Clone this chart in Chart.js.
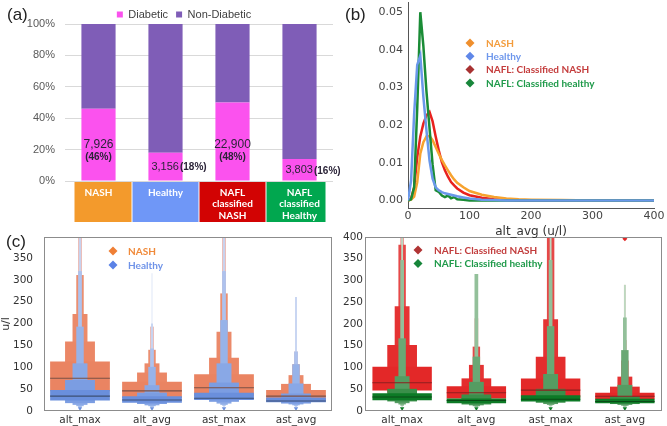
<!DOCTYPE html>
<html><head><meta charset="utf-8">
<script src="https://cdn.jsdelivr.net/npm/chart.js@4.4.0/dist/chart.umd.min.js"></script>
<style>
html,body{margin:0;padding:0;background:#fff;}
body{width:667px;height:426px;position:relative;overflow:hidden;font-family:"Liberation Sans",Arial,sans-serif;}
.pane{position:absolute;}
.pane canvas{display:block;}
.tag{position:absolute;font-size:17px;color:#222;line-height:17px;font-family:"Liberation Sans",Arial,sans-serif;}
</style></head><body>
<div class="pane" style="left:0;top:225px;"><canvas id="cc1" width="340" height="201"></canvas></div>
<div class="pane" style="left:340px;top:225px;"><canvas id="cc2" width="327" height="201"></canvas></div>
<div class="pane" style="left:0;top:0;"><canvas id="ca" width="340" height="225"></canvas></div>
<div class="pane" style="left:340px;top:0;"><canvas id="cb" width="327" height="240"></canvas></div>
<div class="tag" style="left:7px;top:6px">(a)</div>
<div class="tag" style="left:345px;top:6px">(b)</div>
<div class="tag" style="left:6px;top:233px">(c)</div>
<script>
// ---------- (a) data ----------
const groupLabels = [['NASH'], ['Healthy'], ['NAFL', 'classified', 'NASH'], ['NAFL', 'classified', 'Healthy']];
const groupColors = ['#f39a2c', '#6f97f7', '#d20303', '#01a74f'];
const diabeticShare = [46, 18, 50, 14];
const nonDiabeticShare = [54, 82, 50, 86];
const diabeticCounts = [7926, 3156, 22900, 3803];
const diabeticPctText = [46, 18, 48, 16];
const shareTicks = [0, 20, 40, 60, 80, 100];

// ---------- (b) data ----------
const densX = [0, 5, 10, 15, 20, 25, 30, 35, 40, 45, 50, 55, 60, 65, 70, 75, 80, 90, 100, 120, 140, 160, 180, 200, 250, 300, 350, 400];
const densNASH = [0, 0.0002, 0.001, 0.0048, 0.0124, 0.0155, 0.017, 0.0171, 0.016, 0.0142, 0.0124, 0.0108, 0.0093, 0.008, 0.0067, 0.0056, 0.0047, 0.0035, 0.0025, 0.0015, 0.0009, 0.0005, 0.0003, 0.0002, 0.0001, 0, 0, 0];
const densHealthy = [0, 0.0053, 0.023, 0.036, 0.0385, 0.0275, 0.0186, 0.0106, 0.0058, 0.0035, 0.0027, 0.0022, 0.0019, 0.0017, 0.0015, 0.0013, 0.0011, 0.0008, 0.0005, 0.0002, 0.0001, 0, 0, 0, 0, 0, 0, 0];
const densNaflNash = [0, 0.0005, 0.0035, 0.0115, 0.017, 0.0204, 0.0226, 0.0235, 0.021, 0.017, 0.0133, 0.0102, 0.008, 0.0063, 0.0049, 0.004, 0.0032, 0.0021, 0.0014, 0.0007, 0.0003, 0.0001, 0, 0, 0, 0, 0, 0];
const densNaflHealthy = [0, 0.0003, 0.0035, 0.0245, 0.05, 0.041, 0.029, 0.0192, 0.0095, 0.0027, 0.0023, 0.0013, 0.0009, 0.0013, 0.0006, 0.0009, 0.0003, 0.0002, 0, 0, 0, 0, 0, 0, 0, 0, 0, 0];
const densXTicks = [0, 100, 200, 300, 400];
const densYTicks = [0, 0.01, 0.02, 0.03, 0.04, 0.05];

// ---------- (c) data ----------
const enzymeCats = ['alt_max', 'alt_avg', 'ast_max', 'ast_avg'];
const nashMedian = [75, 46, 53, 34];
const nashLevels = [
  [[45, 113], [35, 159], [28, 222], [24, 311], [20, 398]],
  [[30, 67], [25, 88], [22, 109], [20, 140], [18, 193]],
  [[33, 84], [27, 122], [24, 181], [22, 269], [20, 398]],
  [[24, 48], [21, 62], [19, 82], [18, 107], [16, 136]]
];
const healthyMedian = [34, 25, 29, 23];
const healthyLevels = [
  [[24, 48], [18, 71], [14, 109], [11, 193], [9, 320], [7, 398]],
  [[19, 34], [16, 42], [13, 59], [11, 101], [9, 143], [8, 200], [6, 315]],
  [[25, 42], [21, 65], [17, 109], [14, 208], [12, 320], [10, 398]],
  [[20, 31], [17, 40], [15, 63], [13, 107], [11, 136], [9, 261]]
];
const healthyLowMarks = [6, 6, 6, 6];
const naflNashMedian = [65, 42, 48, 34];
const naflNashLevels = [
  [[47, 102], [42, 152], [35, 241], [30, 382], [26, 398]],
  [[29, 57], [26, 75], [24, 106], [22, 148], [20, 213]],
  [[31, 75], [28, 125], [25, 211], [23, 398]],
  [[27, 42], [24, 56], [22, 79], [20, 116], [18, 163], [16, 290]]
];
const naflNashHighMarks = [null, null, null, 396];
const naflHealthyMedian = [32, 24, 27, 22];
const naflHealthyLevels = [
  [[25, 41], [22, 51], [18, 80], [15, 167], [12, 347], [10, 398]],
  [[18, 29], [15, 38], [13, 67], [11, 125], [9, 315]],
  [[22, 36], [19, 51], [16, 85], [14, 195], [12, 347], [10, 398]],
  [[18, 28], [16, 33], [14, 60], [12, 140], [10, 215], [9, 290]]
];
const naflHealthyLowMarks = [6, 6, 6, 6];
const leftTicks = [0, 50, 100, 150, 200, 250, 300, 350];
const rightTicks = [0, 50, 100, 150, 200, 250, 300, 350, 400];

// ---------- plugins ----------
const catBoxes = {
  id: 'catBoxes',
  afterLayout(chart, args, o) {
    if (chart.legend && o.legendShift) { chart.legend.left += o.legendShift; chart.legend.right += o.legendShift; }
  },
  beforeDraw(chart, args, o) {
    const x = chart.scales.x, ca = chart.chartArea, ctx = chart.ctx;
    const n = x.ticks.length;
    const c = x.ticks.map((t, i) => x.getPixelForTick(i));
    ctx.save();
    for (let i = 0; i < n; i++) {
      const l = i === 0 ? ca.left + o.inset[0] : (c[i - 1] + c[i]) / 2;
      const r = i === n - 1 ? ca.right - o.inset[1] : (c[i] + c[i + 1]) / 2;
      ctx.fillStyle = o.colors[i];
      ctx.fillRect(l + 0.5, ca.bottom + 1, r - l - 1, o.height);
    }
    ctx.restore();
  }
};
const barLabels = {
  id: 'barLabels',
  afterDatasetsDraw(chart) {
    const ctx = chart.ctx;
    const meta = chart.getDatasetMeta(0);
    ctx.save();
    ctx.fillStyle = '#2b2438';
    ctx.textBaseline = 'middle';
    meta.data.forEach((bar, i) => {
      const cnt = diabeticCounts[i].toLocaleString('en-US');
      const pct = '(' + diabeticPctText[i] + '%)';
      const top = bar.y, bottom = bar.base, h = bottom - top;
      if (h > 40) {
        ctx.textAlign = 'center';
        ctx.font = '12px "Liberation Sans", Arial';
        ctx.fillText(cnt, bar.x, bottom - 36);
        ctx.font = 'bold 10px "Liberation Sans", Arial';
        ctx.fillText(pct, bar.x, bottom - 23);
      } else {
        ctx.textAlign = 'left';
        const x0 = bar.x - bar.width / 2 + 3, y0 = (top + bottom) / 2;
        ctx.font = '11px "Liberation Sans", Arial';
        ctx.fillText(cnt, x0, y0);
        const w = ctx.measureText(cnt).width;
        ctx.font = 'bold 10px "Liberation Sans", Arial';
        ctx.fillText(pct, x0 + w + 1, y0 + 1);
      }
    });
    ctx.restore();
  }
};
const frame = {
  id: 'frame',
  afterDatasetsDraw(chart, args, o) {
    const ca = chart.chartArea, ctx = chart.ctx;
    ctx.save();
    ctx.strokeStyle = o.color || '#888';
    ctx.lineWidth = 1;
    ctx.strokeRect(Math.round(ca.left) + 0.5, Math.round(ca.top) + 0.5, Math.round(ca.right - ca.left) - 1, Math.round(ca.bottom - ca.top) - 1);
    ctx.restore();
  }
};
const markLegend = {
  id: 'markLegend',
  afterDraw(chart, args, o) {
    if (!o || !o.items) return;
    const ctx = chart.ctx;
    ctx.save();
    ctx.textBaseline = 'middle';
    ctx.textAlign = 'left';
    ctx.font = o.font;
    o.items.forEach((it, i) => {
      const y = o.y + i * o.dy, r = o.r;
      ctx.fillStyle = it.marker;
      ctx.beginPath();
      ctx.moveTo(o.mx, y - r); ctx.lineTo(o.mx + r, y); ctx.lineTo(o.mx, y + r); ctx.lineTo(o.mx - r, y);
      ctx.closePath(); ctx.fill();
      ctx.fillStyle = it.color;
      ctx.fillText(it.text, o.tx, y + 0.5);
    });
    ctx.restore();
  }
};
const fixV = w => s => { s.width = w; s.paddingTop = 0; s.paddingBottom = 0; };
const fixH = h => s => { s.height = h; s.paddingLeft = 0; s.paddingRight = 0; };

// ---------- (a) chart ----------
new Chart(document.getElementById('ca'), {
  type: 'bar',
  data: {
    labels: groupLabels,
    datasets: [
      { label: 'Diabetic', data: diabeticShare, backgroundColor: '#fb52ee', stack: 's' },
      { label: 'Non-Diabetic', data: nonDiabeticShare, backgroundColor: '#7f5db7', stack: 's' }
    ]
  },
  options: {
    responsive: false, animation: false, devicePixelRatio: 1,
    layout: { padding: { left: 25, right: 7, top: 1, bottom: 0 } },
    datasets: { bar: { barPercentage: 0.51, categoryPercentage: 1 } },
    plugins: {
      legend: { position: 'top', maxHeight: 23, labels: { boxWidth: 6, boxHeight: 6, padding: 8, color: '#404040', font: { size: 11, family: '"Liberation Sans", Arial' } } },
      tooltip: { enabled: false },
      catBoxes: { colors: groupColors, inset: [9, 7], height: 40, legendShift: 5 }
    },
    scales: {
      x: {
        stacked: true, grid: { display: false, drawTicks: false }, border: { display: false },
        afterFit: fixH(44),
        ticks: { color: '#ffffff', font: { family: 'Lato', size: 10, weight: 'bold', lineHeight: 1.15 }, padding: 6, maxRotation: 0, autoSkip: false }
      },
      y: {
        stacked: true, min: 0, max: 100,
        afterBuildTicks: s => { s.ticks = shareTicks.map(v => ({ value: v })); },
        afterFit: fixV(40),
        ticks: { callback: v => v + '%', color: '#595959', font: { size: 11, family: '"Liberation Sans", Arial' }, padding: 10 },
        grid: { color: '#d9d9d9', drawTicks: false }, border: { display: false }
      }
    }
  },
  plugins: [catBoxes, barLabels]
});

// ---------- (b) chart ----------
const pts = arr => densX.map((x, i) => ({ x: x, y: arr[i] }));
new Chart(document.getElementById('cb'), {
  type: 'line',
  data: {
    datasets: [
      { label: 'Healthy', data: pts(densHealthy), borderColor: '#6a98ea' },
      { label: 'NAFL: Classified healthy', data: pts(densNaflHealthy), borderColor: '#1a8c36' },
      { label: 'NASH', data: pts(densNASH), borderColor: '#f7a32f' },
      { label: 'NAFL: Classified NASH', data: pts(densNaflNash), borderColor: '#e8221e' }
    ]
  },
  options: {
    responsive: false, animation: false, devicePixelRatio: 1,
    layout: { padding: { left: 0, right: 13, top: 2, bottom: 0 } },
    elements: { point: { radius: 0 }, line: { borderWidth: 2.5, tension: 0 } },
    plugins: {
      legend: { display: false }, tooltip: { enabled: false },
      markLegend: {
        mx: 130, tx: 146, y: 43, dy: 13.3, r: 4.5, font: 'bold 10px Lato',
        items: [
          { text: 'NASH', marker: '#ef8f2d', color: '#f39c3c' },
          { text: 'Healthy', marker: '#5f87e8', color: '#6e97ec' },
          { text: 'NAFL: Classified NASH', marker: '#a83232', color: '#c43c3c' },
          { text: 'NAFL: Classified healthy', marker: '#17863a', color: '#1f9a4a' }
        ]
      }
    },
    scales: {
      x: {
        type: 'linear', min: 0, max: 400,
        afterBuildTicks: s => { s.ticks = densXTicks.map(v => ({ value: v })); },
        afterFit: fixH(32),
        grid: { display: false, drawTicks: false }, border: { color: '#555', width: 1 },
        ticks: { color: '#444', font: { family: 'DejaVu Sans', size: 11 }, padding: 2 },
        title: { display: true, text: 'alt_avg (u/l)', color: '#333', font: { family: 'DejaVu Sans', size: 12 }, padding: { top: 0, bottom: 1 } }
      },
      y: {
        min: -0.002, max: 0.0527,
        afterBuildTicks: s => { s.ticks = densYTicks.map(v => ({ value: v })); },
        afterFit: fixV(68),
        grid: { display: false, drawTicks: false }, border: { color: '#555', width: 1 },
        ticks: { callback: v => v.toFixed(2), color: '#444', font: { family: 'DejaVu Sans', size: 11 }, padding: 5 }
      }
    }
  },
  plugins: [markLegend]
});

// ---------- (c) charts ----------
function boxenSets(levels, colors, width) {
  const depth = Math.max(...levels.map(l => l.length));
  const out = [];
  for (let k = 0; k < depth; k++) {
    out.push({
      type: 'bar', data: levels.map(l => l[k] || null),
      backgroundColor: colors[Math.min(k, colors.length - 1)],
      barPercentage: width * Math.pow(0.5, k), categoryPercentage: 1,
      grouped: false, borderWidth: 0
    });
  }
  return out;
}
function medianSet(meds, color, width) {
  return { type: 'bar', data: meds.map(m => [m - 1.2, m + 1.2]), backgroundColor: color, barPercentage: width, categoryPercentage: 1, grouped: false, borderWidth: 0 };
}
function markSet(vals, color, style, rot, r) {
  return { type: 'line', data: vals, showLine: false, pointStyle: style, rotation: rot, pointRadius: r, pointBackgroundColor: color, pointBorderWidth: 0 };
}
function boxenChart(id, datasets, o) {
  return new Chart(document.getElementById(id), {
    type: 'bar',
    data: { labels: enzymeCats, datasets: datasets },
    options: {
      responsive: false, animation: false, devicePixelRatio: 1,
      layout: { padding: { top: 12, right: o.right, bottom: 0, left: 0 } },
      plugins: { legend: { display: false }, tooltip: { enabled: false }, frame: { color: '#8c8c8c' }, markLegend: o.legend },
      scales: {
        x: {
          grid: { display: false, drawTicks: false }, border: { display: false },
          ticks: { color: '#333', font: { family: 'DejaVu Sans', size: 10.5 }, padding: 3 },
          afterFit: fixH(15)
        },
        y: {
          min: 0, max: o.max,
          afterBuildTicks: s => { s.ticks = o.ticks.map(v => ({ value: v })); },
          afterFit: fixV(o.yWidth),
          grid: { display: false, drawTicks: false }, border: { display: false },
          ticks: { color: '#333', font: { family: 'DejaVu Sans', size: 10.5 }, padding: o.tickPad },
          title: o.title
        }
      }
    },
    plugins: [frame, markLegend]
  });
}
const WL = 0.83, WR = 0.8;
const blueShades = ['#6a8fdc', '#7b9de2', '#89a8e6', '#97b3e9', '#adc2ee', '#c6d4f2', '#dde6f7'];
const orangeShades = ['#ea8462', '#eb8766', '#eb8a6a', '#ea8f72', '#e7b5b0', '#efd6d4'];
const redShades = ['#e32828', '#e42d2d', '#e53333', '#e64848', '#ec9a9a', '#f3caca'];
const greenShades = ['#0d7a26', '#3a8f4a', '#559c62', '#6aa875', '#93c09a', '#bcd9c0'];

boxenChart('cc1', [
  markSet(healthyLowMarks, '#6a8fdc', 'triangle', 180, 2.5),
  medianSet(nashMedian, '#7a5046', WL),
  medianSet(healthyMedian, '#3d4f73', WL),
  ...boxenSets(healthyLevels, blueShades, WL),
  ...boxenSets(nashLevels, orangeShades, WL)
], {
  right: 8, max: 398, ticks: leftTicks, yWidth: 44, tickPad: 11,
  title: { display: true, text: 'u/l', color: '#333', font: { family: 'DejaVu Sans', size: 11 }, padding: 0 },
  legend: {
    mx: 113, tx: 128, y: 26, dy: 14, r: 4.5, font: 'bold 10px Lato',
    items: [
      { text: 'NASH', marker: '#ef7f35', color: '#f08a3a' },
      { text: 'Healthy', marker: '#5b82e6', color: '#6f93e8' }
    ]
  }
});

boxenChart('cc2', [
  markSet(naflHealthyLowMarks, '#0d7a26', 'triangle', 180, 2.5),
  markSet(naflNashHighMarks, '#e32828', 'rectRot', 0, 2.5),
  medianSet(naflNashMedian, '#8e1f1f', WR),
  medianSet(naflHealthyMedian, '#0a4a16', WR),
  ...boxenSets(naflHealthyLevels, greenShades, WR),
  ...boxenSets(naflNashLevels, redShades, WR)
], {
  right: 5, max: 400, ticks: rightTicks, yWidth: 25, tickPad: 2,
  title: { display: false },
  legend: {
    mx: 78, tx: 94, y: 25, dy: 13.5, r: 4.5, font: 'bold 10px Lato',
    items: [
      { text: 'NAFL: Classified NASH', marker: '#b03434', color: '#c23d3d' },
      { text: 'NAFL: Classified healthy', marker: '#17863a', color: '#1f9a4a' }
    ]
  }
});
</script>
</body></html>
